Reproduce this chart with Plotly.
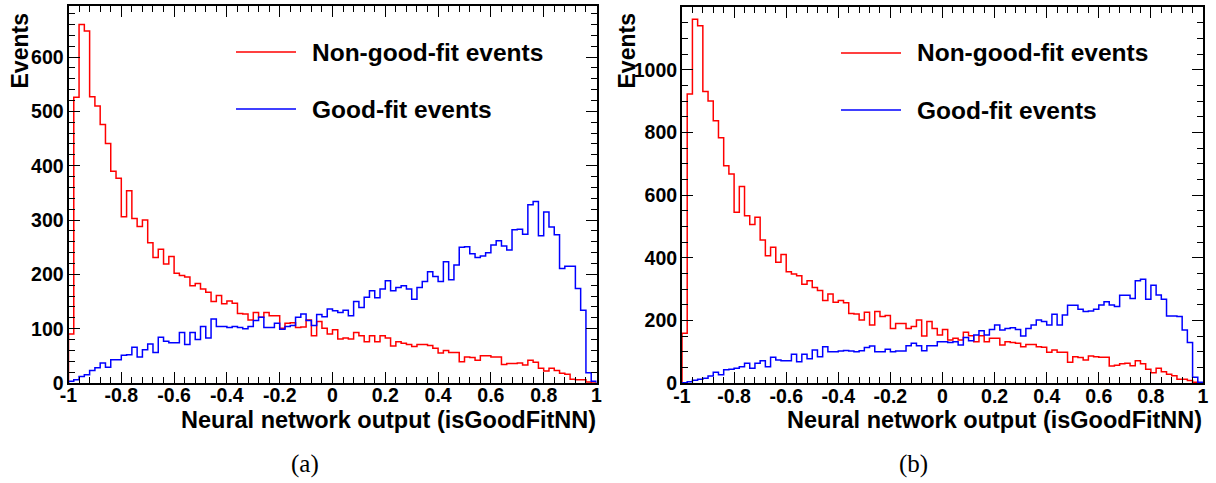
import numpy as np
import plotly.graph_objects as go

# bin range of both histograms (100 bins from -1 to 1)
x_min, x_max, n_bins = -1.0, 1.0, 100

# panel (a): events per bin
red_a = [90, 526, 660, 648, 527, 510, 476, 441, 390, 377, 306, 354, 303, 288, 300, 258, 231, 246, 219, 233,
         202, 198, 195, 179, 183, 173, 167, 150, 161, 146, 151, 147, 128, 127, 116, 130, 121, 130, 124, 124,
         101, 110, 111, 102, 103, 116, 87, 113, 101, 90, 98, 81, 83, 81, 93, 87, 76, 87, 76, 87,
         83, 68, 76, 73, 71, 67, 71, 71, 69, 64, 55, 60, 56, 56, 39, 48, 47, 42, 50, 50,
         48, 48, 34, 36, 36, 37, 33, 42, 38, 27, 22, 27, 23, 18, 16, 7, 6, 6, 2, 0]
blue_a = [3, 6, 12, 15, 23, 28, 37, 29, 43, 43, 51, 52, 66, 48, 61, 72, 56, 84, 77, 74,
          74, 93, 71, 93, 80, 104, 83, 118, 104, 104, 102, 104, 102, 100, 104, 115, 121, 102, 102, 110,
          99, 104, 106, 121, 127, 115, 106, 126, 122, 136, 133, 130, 134, 124, 150, 139, 158, 170, 157, 173,
          188, 170, 176, 179, 173, 154, 176, 187, 205, 196, 187, 223, 190, 217, 250, 251, 238, 231, 234, 240,
          254, 262, 252, 245, 282, 283, 274, 328, 334, 271, 315, 287, 273, 211, 215, 215, 174, 134, 19, 3]

# panel (b): events per bin
red_b = [160, 923, 1162, 1141, 931, 901, 838, 784, 694, 668, 546, 628, 535, 507, 530, 457, 407, 434, 386, 411,
         356, 349, 343, 316, 327, 306, 296, 264, 285, 259, 264, 257, 223, 221, 202, 227, 186, 229, 213, 216,
         175, 191, 191, 175, 181, 202, 151, 197, 175, 154, 172, 138, 144, 138, 163, 152, 133, 152, 133, 144,
         144, 122, 133, 130, 128, 117, 124, 124, 117, 115, 99, 106, 99, 99, 67, 85, 82, 74, 87, 85,
         83, 83, 55, 58, 62, 64, 56, 72, 62, 45, 34, 48, 37, 29, 24, 13, 13, 9, 3, 0]
blue_b = [2, 5, 10, 13, 16, 23, 35, 27, 43, 45, 48, 53, 64, 48, 64, 72, 53, 83, 74, 72,
          72, 93, 69, 93, 78, 106, 85, 117, 101, 101, 103, 105, 103, 101, 104, 114, 119, 101, 101, 109,
          101, 103, 103, 120, 128, 120, 104, 120, 120, 133, 133, 130, 133, 122, 146, 136, 154, 168, 154, 172,
          186, 170, 175, 177, 172, 151, 175, 186, 202, 197, 186, 220, 186, 218, 249, 249, 236, 229, 231, 236,
          250, 260, 250, 245, 281, 281, 271, 327, 332, 268, 313, 282, 268, 215, 215, 213, 170, 130, 19, 3]

x_ticks = [-1, -0.8, -0.6, -0.4, -0.2, 0, 0.2, 0.4, 0.6, 0.8, 1]
x_tick_labels = ['-1', '-0.8', '-0.6', '-0.4', '-0.2', '0', '0.2', '0.4', '0.6', '0.8', '1']
legend_labels = ['Non-good-fit events', 'Good-fit events']
x_title = 'Neural network output (isGoodFitNN)'
y_title = 'Events'
captions = ['(a)', '(b)']

W, H = 1216, 483
BOLD = dict(family='Liberation Sans, Arial, sans-serif', color='black', weight='bold')


def px(x):
    return x / W


def py(y):
    return 1 - y / H


def step(values):
    edges = np.linspace(x_min, x_max, n_bins + 1)
    xs = [x_min] + list(edges[:-1]) + [x_max]
    ys = [0] + list(values) + [0]
    return xs, ys


# pixel geometry of the two frames: (left, right, top, bottom), y max, y major/minor step
panels = [
    dict(box=(68.5, 596.5, 6, 383), ymax=694, dy=100, dminor=20, red=red_a, blue=blue_a,
         leg_x=(236, 296, 310), leg_y=(52, 109), ytitle_x=19, cap_x=305),
    dict(box=(682, 1203, 6.7, 383.3), ymax=1202, dy=200, dminor=50, red=red_b, blue=blue_b,
         leg_x=(841, 901, 915), leg_y=(53, 110), ytitle_x=626, cap_x=913),
]

fig = go.Figure()
shapes = []
annotations = []

for i, p in enumerate(panels):
    n = '' if i == 0 else str(i + 1)
    left, right, top, bottom = p['box']
    for vals, col in ((p['red'], '#ff0000'), (p['blue'], '#0000ff')):
        xs, ys = step(vals)
        fig.add_trace(go.Scatter(x=xs, y=ys, mode='lines', line=dict(color=col, width=1.5, shape='hv'),
                                 xaxis='x' + n, yaxis='y' + n, showlegend=False, hoverinfo='skip'))

    fig.layout['xaxis' + n] = dict(
        domain=[px(left), px(right)], anchor='y' + n, range=[x_min, x_max], automargin=False,
        tickvals=x_ticks, ticktext=x_tick_labels, ticks='inside', ticklen=11, tickwidth=1.2,
        tickcolor='black', minor=dict(dtick=0.04, ticks='inside', ticklen=6, tickcolor='black', tickwidth=1.2),
        showline=True, linecolor='black', linewidth=2, mirror='ticks', showgrid=False, zeroline=False,
        tickfont=dict(size=19.5, **BOLD), ticklabelstandoff=-6)
    fig.layout['yaxis' + n] = dict(
        domain=[py(bottom), py(top)], anchor='x' + n, range=[0, p['ymax']], automargin=False,
        dtick=p['dy'], tick0=0, ticks='inside', ticklen=11, tickwidth=1.2, tickcolor='black',
        minor=dict(dtick=p['dminor'], ticks='inside', ticklen=6, tickcolor='black', tickwidth=1.2),
        showline=True, linecolor='black', linewidth=2, mirror='ticks', showgrid=False, zeroline=False,
        tickfont=dict(size=19.5, **BOLD), ticklabelstandoff=-1)

    # legend drawn in the frame, ROOT style
    lx0, lx1, tx = p['leg_x']
    for label, col, ly in zip(legend_labels, ('#ff0000', '#0000ff'), p['leg_y']):
        shapes.append(dict(type='line', xref='paper', yref='paper', x0=px(lx0), x1=px(lx1),
                           y0=py(ly), y1=py(ly), line=dict(color=col, width=1.5)))
        annotations.append(dict(text=label, x=px(tx), y=py(ly), xref='paper', yref='paper',
                                xanchor='left', yanchor='middle', showarrow=False, font=dict(size=24.5, **BOLD)))

    annotations.append(dict(text=x_title, x=px(right + 1), y=py(420), xref='paper', yref='paper',
                            xanchor='right', yanchor='middle', showarrow=False, font=dict(size=23.5, **BOLD)))
    annotations.append(dict(text=y_title, x=px(p['ytitle_x']), y=py(12), xref='paper', yref='paper',
                            xanchor='center', yanchor='top', textangle=-90, showarrow=False,
                            font=dict(size=23, **BOLD)))
    annotations.append(dict(text=captions[i], x=px(p['cap_x']), y=py(464), xref='paper', yref='paper',
                            xanchor='center', yanchor='middle', showarrow=False,
                            font=dict(size=25, family='Liberation Serif, Times New Roman, serif', color='black')))

fig.update_layout(width=W, height=H, margin=dict(l=0, r=0, t=0, b=0),
                  paper_bgcolor='white', plot_bgcolor='white',
                  shapes=shapes, annotations=annotations, showlegend=False)

# drop the browser's default body margin so the figure fills the window exactly
fig.write_html("out.html", config={'displayModeBar': False},
               post_script="document.body.style.margin='0';")
